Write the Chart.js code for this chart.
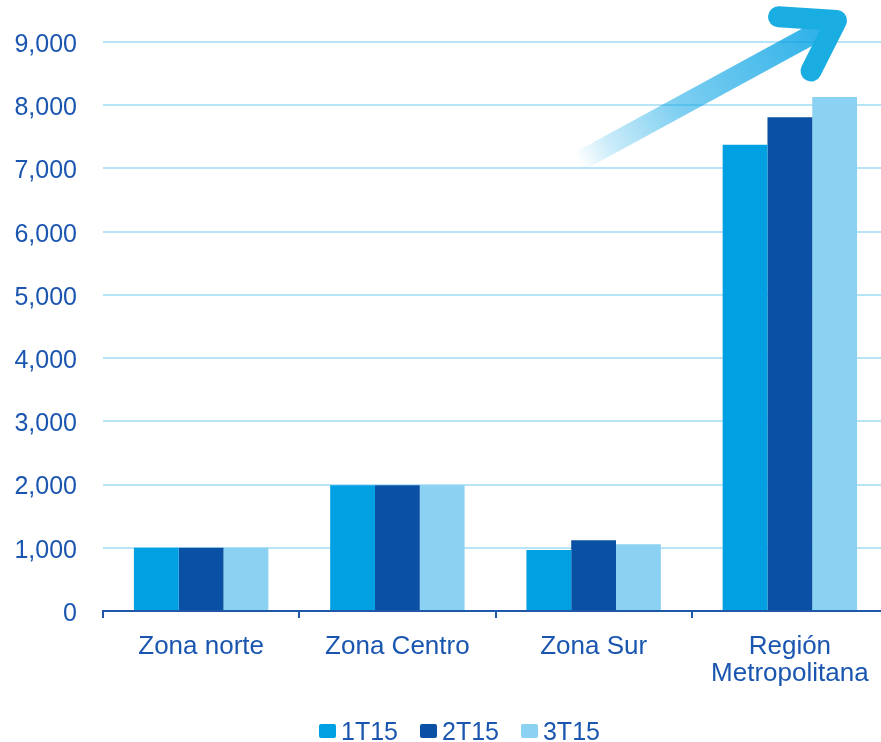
<!DOCTYPE html>
<html>
<head>
<meta charset="utf-8">
<script src="https://cdn.jsdelivr.net/npm/chart.js@4.4.1/dist/chart.umd.min.js"></script>
<style>
  html, body { margin: 0; padding: 0; background: #fff; overflow: hidden; width: 881px; height: 742px; }
  #wrap { position: relative; width: 888px; height: 742px; }
  #legend {
    position: absolute; left: 319px; top: 716px; display: flex; align-items: center;
    font-family: "Liberation Sans", Arial, sans-serif; font-size: 25px; color: #1a56b0; line-height: 30px;
  }
  .item { display: flex; align-items: center; margin-right: 22px; }
  .box { width: 17px; height: 14px; border-radius: 2px; margin-right: 5px; }
</style>
</head>
<body>
<div id="wrap">
  <canvas id="c" width="888" height="742"></canvas>
  <div id="legend"></div>
</div>
<script>
// Categories and quarterly values
const categories = ['Zona norte', 'Zona Centro', 'Zona Sur', ['Región', 'Metropolitana']];
const seriesNames = ['1T15', '2T15', '3T15'];
const values1T15 = [1000, 1990, 965, 7375];
const values2T15 = [1000, 1990, 1120, 7810];
const values3T15 = [1000, 1990, 1055, 8130];
const seriesColors = ['#00a0e3', '#0a50a4', '#8bd2f2'];

const textColor = '#1a56b0';
const axisColor = '#1f58a8';
const gridColor = '#b8e4f7';
const fontFamily = '"Liberation Sans", Arial, sans-serif';

// Decorative growth arrow above the Región Metropolitana group
const arrowPlugin = {
  id: 'growthArrow',
  afterDatasetsDraw(chart) {
    const ctx = chart.ctx;
    const tail = { x: 578, y: 162 };
    const corner = { x: 836.5, y: 20.5 };
    ctx.save();
    // faded shaft
    const g = ctx.createLinearGradient(tail.x, tail.y, corner.x, corner.y);
    g.addColorStop(0, 'rgba(0,160,227,0)');
    g.addColorStop(0.12, 'rgba(0,160,227,0.2)');
    g.addColorStop(0.38, 'rgba(0,160,227,0.5)');
    g.addColorStop(1, 'rgba(0,160,227,0.85)');
    ctx.strokeStyle = g;
    ctx.lineWidth = 20;
    ctx.lineCap = 'butt';
    ctx.beginPath();
    ctx.moveTo(tail.x, tail.y);
    ctx.lineTo(corner.x - 6, corner.y + 4);
    ctx.stroke();
    // solid head
    ctx.strokeStyle = '#19ade2';
    ctx.lineWidth = 21;
    ctx.lineCap = 'round';
    ctx.lineJoin = 'round';
    ctx.beginPath();
    ctx.moveTo(778.5, 16.8);
    ctx.lineTo(corner.x, corner.y);
    ctx.lineTo(811, 71);
    ctx.stroke();
    ctx.restore();
  }
};

const chart = new Chart(document.getElementById('c'), {
  type: 'bar',
  data: {
    labels: categories,
    datasets: [
      { label: seriesNames[0], data: values1T15, backgroundColor: seriesColors[0] },
      { label: seriesNames[1], data: values2T15, backgroundColor: seriesColors[1] },
      { label: seriesNames[2], data: values3T15, backgroundColor: seriesColors[2] }
    ]
  },
  options: {
    responsive: false,
    animation: false,
    layout: { padding: { top: 42, left: 0, right: 0, bottom: 0 } },
    datasets: { bar: { categoryPercentage: 0.685, barPercentage: 1.0, borderWidth: 0 } },
    plugins: { legend: { display: false }, tooltip: { enabled: false } },
    scales: {
      x: {
        grid: { drawOnChartArea: false, drawTicks: true, tickLength: 7, color: axisColor, lineWidth: 2, offset: true },
        border: { display: true, color: axisColor, width: 2 },
        ticks: { color: textColor, padding: 16, maxRotation: 0, font: { family: fontFamily, size: 26, lineHeight: 1.02 } },
        afterFit(scale) { scale.height = 131; }
      },
      y: {
        min: 0, max: 9000,
        grid: { color: gridColor, lineWidth: 2, drawTicks: false },
        border: { display: false },
        ticks: {
          stepSize: 1000, padding: 26, labelOffset: 3, color: textColor,
          font: { family: fontFamily, size: 25 },
          callback: v => v.toLocaleString('en-US')
        },
        afterFit(scale) { scale.width = 103; }
      }
    }
  },
  plugins: [arrowPlugin]
});

// Legend built from the series names and colours
const legend = document.getElementById('legend');
seriesNames.forEach((name, i) => {
  const item = document.createElement('div');
  item.className = 'item';
  const box = document.createElement('span');
  box.className = 'box';
  box.style.background = seriesColors[i];
  const txt = document.createElement('span');
  txt.textContent = name;
  item.appendChild(box);
  item.appendChild(txt);
  legend.appendChild(item);
});
</script>
</body>
</html>
